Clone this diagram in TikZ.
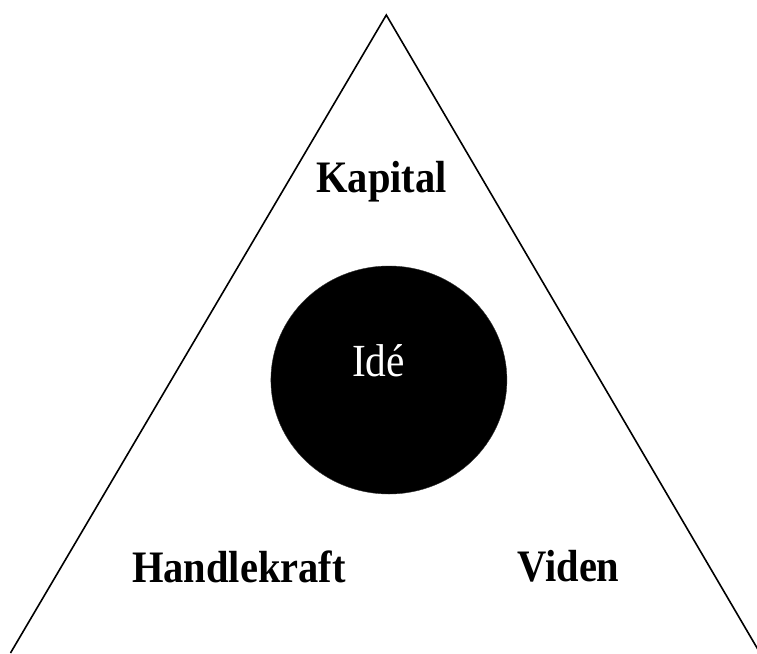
\documentclass[tikz,border=0pt]{standalone}
\usepackage{fontspec}
\setmainfont{Liberation Serif}[FakeStretch=0.9]
\usetikzlibrary{shapes.geometric}
\begin{document}
\begin{tikzpicture}[x=1pt,y=-1pt,
  edge/.style={line width=1.6pt,line join=miter},
  lbl/.style={anchor=base,inner sep=0pt,font=\fontsize{45}{50}\selectfont\bfseries},
  core/.style={ellipse,fill=black,draw=black!80,line width=0.4pt,minimum width=236pt,minimum height=228pt,inner sep=0pt}]
\useasboundingbox (0,0) rectangle (757,653);
\clip (0,0) rectangle (757,653);
\coordinate (apex) at (386.3,15);
\coordinate (bl) at (10.5,653);
\coordinate (br) at (760,653);
\draw[edge] (bl) -- (apex) -- (br);
\node[core] (circ) at (388.9,380) {};
\node[anchor=base,inner sep=0pt,text=white,font=\fontsize{46}{50}\selectfont] (ide) at (378.5,376) {Idé};
\node[lbl] (kap) at (381.5,192) {Kapital};
\node[lbl] (hand) at (239,582) {Handlekraft};
\node[lbl] (vid) at (568.5,581) {Viden};
\end{tikzpicture}
\end{document}
